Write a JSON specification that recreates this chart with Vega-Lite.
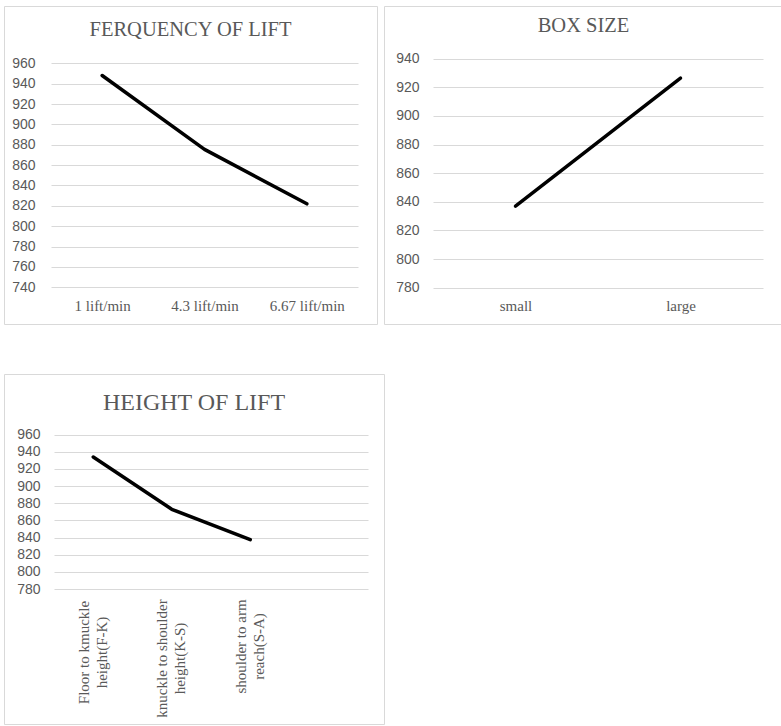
{
  "$schema": "https://vega.github.io/schema/vega-lite/v6.json",
  "background": "white",
  "padding": {"left": 3, "top": 5, "right": 0, "bottom": 0},
  "config": {
    "view": {"stroke": "#d9d9d9", "strokeWidth": 1},
    "axis": {"domain": false, "ticks": false, "gridColor": "#d9d9d9", "gridWidth": 1, "labelColor": "#595959", "title": null},
    "axisX": {"grid": false, "labelFont": "Liberation Serif", "labelFontSize": 15, "labelAngle": 0, "labelPadding": 11},
    "axisY": {"grid": true, "labelFont": "Liberation Sans", "labelFontSize": 14},
    "title": {"font": "Liberation Serif", "fontWeight": "normal", "color": "#595959", "anchor": "middle", "frame": "group", "baseline": "alphabetic"},
    "line": {"color": "black", "strokeWidth": 3.5, "strokeJoin": "round", "strokeCap": "round"}
  },
  "vconcat": [
    {
      "hconcat": [
        {
          "width": 373,
          "height": 318,
          "title": {"text": "FERQUENCY OF LIFT", "fontSize": 20.5, "offset": -34},
          "data": {"values": [
            {"frequency": "1 lift/min", "value": 948},
            {"frequency": "4.3 lift/min", "value": 875.5},
            {"frequency": "6.67 lift/min", "value": 822}
          ]},
          "mark": {"type": "line"},
          "encoding": {
            "x": {"field": "frequency", "type": "nominal", "sort": null,
              "scale": {"range": [47, 354], "paddingInner": 0, "paddingOuter": 0},
              "axis": {"offset": -36.7}},
            "y": {"field": "value", "type": "quantitative",
              "scale": {"domain": [740, 960], "range": [281.3, 57.3], "nice": false, "zero": false},
              "axis": {"offset": -47, "labelPadding": 16, "values": [740, 760, 780, 800, 820, 840, 860, 880, 900, 920, 940, 960]}}
          }
        },
        {
          "width": 399,
          "height": 318,
          "title": {"text": "BOX SIZE", "fontSize": 20.5, "offset": -30},
          "data": {"values": [
            {"box": "small", "value": 837},
            {"box": "large", "value": 926.5}
          ]},
          "mark": {"type": "line"},
          "encoding": {
            "x": {"field": "box", "type": "nominal", "sort": null,
              "scale": {"range": [49, 379], "paddingInner": 0, "paddingOuter": 0},
              "axis": {"offset": -36.3}},
            "y": {"field": "value", "type": "quantitative",
              "scale": {"domain": [780, 940], "range": [281.7, 52.7], "nice": false, "zero": false},
              "axis": {"offset": -49, "labelPadding": 14, "values": [780, 800, 820, 840, 860, 880, 900, 920, 940]}}
          }
        }
      ],
      "spacing": 5
    },
    {
      "width": 380,
      "height": 350,
      "title": {"text": "HEIGHT OF LIFT", "fontSize": 24, "offset": -40.5},
      "data": {"values": [
        {"height": "Floor to kmuckle height(F-K)", "value": 934},
        {"height": "knuckle to shoulder height(K-S)", "value": 873},
        {"height": "shoulder to arm reach(S-A)", "value": 837.5}
      ]},
      "mark": {"type": "line"},
      "encoding": {
        "x": {"field": "height", "type": "nominal",
          "scale": {"domain": ["Floor to kmuckle height(F-K)", "knuckle to shoulder height(K-S)", "shoulder to arm reach(S-A)", " "], "range": [50, 364], "paddingInner": 0, "paddingOuter": 0},
          "axis": {"offset": -135, "labelAngle": -90, "labelAlign": "center", "labelBaseline": "middle", "labelLineHeight": 18, "labelOffset": -10,
            "labelPadding": {"condition": [
              {"test": "datum.value == 'knuckle to shoulder height(K-S)'", "value": 69},
              {"test": "datum.value == 'shoulder to arm reach(S-A)'", "value": 57}
            ], "value": 63},
            "labelExpr": "datum.value == 'Floor to kmuckle height(F-K)' ? ['Floor to kmuckle', 'height(F-K)'] : datum.value == 'knuckle to shoulder height(K-S)' ? ['knuckle to shoulder', 'height(K-S)'] : datum.value == 'shoulder to arm reach(S-A)' ? ['shoulder to arm', 'reach(S-A)'] : ''"}},
        "y": {"field": "value", "type": "quantitative",
          "scale": {"domain": [780, 960], "range": [215, 60.7], "nice": false, "zero": false},
          "axis": {"offset": -50, "labelPadding": 14, "values": [780, 800, 820, 840, 860, 880, 900, 920, 940, 960]}}
      }
    }
  ],
  "spacing": 48
}
